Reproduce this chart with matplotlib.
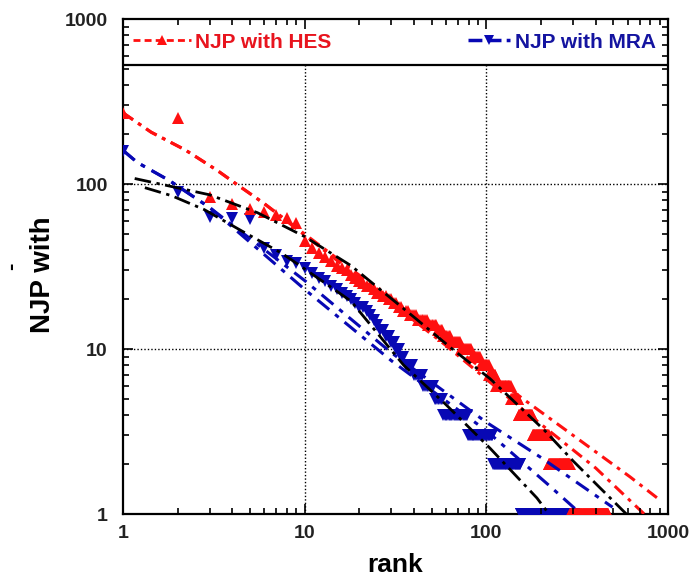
import numpy as np
import matplotlib.pyplot as plt
from matplotlib.lines import Line2D
from matplotlib.patches import Rectangle

plt.rcParams['font.family'] = ['Liberation Sans', 'DejaVu Sans']

# rank-size data
# HES: first ranks one by one, then (value, how many ranks share it)
hes_head = [270, 250, 83, 76, 71, 68, 65, 62, 58, 45, 41, 38, 36, 34, 32, 31, 30, 28, 27, 26]
hes_tail_values = [25, 24, 23, 22, 21, 20, 19, 18, 17, 16, 15, 14, 13, 12, 11, 10, 9, 8, 7, 6, 5, 4, 3, 2, 1]
hes_tail_counts = [1, 2, 1, 2, 2, 2, 2, 2, 3, 4, 6, 6, 4, 6, 9, 10, 10, 11, 9, 24, 14, 29, 41, 68, 179]

# MRA
mra_head = [158, 90, 63, 62, 61, 41, 37, 34, 33, 31, 29, 27, 26, 24, 23, 22, 21, 20, 19]
mra_tail_values = [18, 17, 16, 15, 14, 13, 12, 11, 10, 9, 8, 7, 6, 5, 4, 3, 2, 1]
mra_tail_counts = [2, 1, 1, 1, 1, 2, 2, 2, 2, 2, 4, 5, 7, 6, 21, 30, 46, 149]

# fitted curves (rank, value)
hes_fit1_rank = [1, 1.43, 2.2, 3.3, 4.1, 6, 20, 60, 167, 618, 890]
hes_fit1_val = [270, 206, 161, 121, 102, 76, 28, 11.1, 4.8, 1.68, 1.23]
hes_fit2_rank = [1, 1.43, 2.2, 3.3, 4.1, 6, 20, 60, 167, 400, 740]
hes_fit2_val = [270, 206, 161, 121, 102, 76, 27, 10.5, 4.1, 1.9, 1.0]

mra_fit1_rank = [1, 1.2, 1.8, 3, 10, 30, 100, 200, 495]
mra_fit1_val = [160, 135, 105, 72, 26, 9.5, 3.6, 2.2, 1.1]
mra_fit2_rank = [1, 1.2, 1.8, 3, 10, 30, 100, 220, 313]
mra_fit2_val = [160, 135, 105, 72, 23, 8.5, 3.2, 1.5, 1.06]

blk_fit1_rank = [1.16, 3, 5.5, 10, 18, 40, 65, 105, 210, 300, 420, 590]
blk_fit1_val = [108, 86, 67, 48, 32, 15.6, 10, 6.6, 3.2, 2.1, 1.45, 1.0]
blk_fit2_rank = [1.32, 1.85, 2.8, 4.5, 7.5, 10, 18, 35, 60, 105, 190, 214]
blk_fit2_val = [95, 85, 70, 52, 38, 30.6, 19.5, 8, 4.6, 2.5, 1.25, 1.05]

hes = np.array(hes_head + list(np.repeat(hes_tail_values, hes_tail_counts)))
mra = np.array(mra_head + list(np.repeat(mra_tail_values, mra_tail_counts)))
hes_rank = np.arange(1, len(hes) + 1)
mra_rank = np.arange(1, len(mra) + 1)

red = '#ff1010'
blue = '#0808b4'

fig = plt.figure(figsize=(6.92, 5.76), dpi=100)
ax = fig.add_axes([0.1777, 0.1076, 0.7876, 0.8594])

# data points
ax.plot(mra_rank, mra, linestyle='none', marker='v', ms=8.5, color=blue, mew=0, zorder=3)
ax.plot(hes_rank, hes, linestyle='none', marker='^', ms=8.5, color=red, mew=0, zorder=3)

# fit lines
dashdot = (0, (4, 2, 1.2, 2))
ax.plot(mra_fit1_rank, mra_fit1_val, color=blue, lw=2.2, linestyle=(0, (5, 2.5, 1.5, 2.5)), zorder=4)
ax.plot(mra_fit2_rank, mra_fit2_val, color=blue, lw=2.2, linestyle=(0, (5, 2.5, 1.5, 2.5)), zorder=4)
ax.plot(hes_fit1_rank, hes_fit1_val, color=red, lw=2.2, linestyle=dashdot, zorder=4)
ax.plot(hes_fit2_rank, hes_fit2_val, color=red, lw=2.2, linestyle=dashdot, zorder=4)
ax.plot(blk_fit1_rank, blk_fit1_val, color='black', lw=2.0, linestyle=(0, (6, 2, 1.2, 2)), zorder=4)
ax.plot(blk_fit2_rank, blk_fit2_val, color='black', lw=2.0, linestyle=(0, (6, 2, 1.2, 2)), zorder=4)

ax.set_xscale('log')
ax.set_yscale('log')
ax.set_xlim(1, 1000)
ax.set_ylim(1, 1000)

ticks = [1, 10, 100, 1000]
tick_labels = ['1', '10', '100', '1000']
ax.set_xticks(ticks)
ax.set_xticklabels(tick_labels)
ax.set_yticks(ticks)
ax.set_yticklabels(tick_labels)
ax.tick_params(which='both', direction='in', top=True, right=True, width=1.2, colors='black')
ax.tick_params(which='major', length=7)
ax.tick_params(which='minor', length=4.5)
ax.tick_params(axis='x', which='major', pad=8, labelsize=14, labelcolor='#222222')
ax.tick_params(axis='y', which='major', pad=11, labelsize=14, labelcolor='#222222')
for lab in ax.get_xticklabels() + ax.get_yticklabels():
    lab.set_fontweight('bold')
for s in ax.spines.values():
    s.set_linewidth(1.6)
# ticks stay visible over the legend strip
ax.xaxis.set_zorder(7)
ax.yaxis.set_zorder(7)

# legend strip across the top of the plot
box_h = 46 / 495

# dotted grid, stopping at the legend strip
grid_style = dict(color='black', linestyle=(0, (1, 1.5)), lw=1, zorder=1)
for g in [10, 100]:
    ax.axvline(g, ymax=1 - box_h, **grid_style)
    ax.axhline(g, **grid_style)

ax.add_patch(Rectangle((0, 1 - box_h), 1, box_h, transform=ax.transAxes,
                       facecolor='white', edgecolor='black', lw=1.6, zorder=5))
h_hes = Line2D([], [], color=red, lw=2, linestyle=(0, (2.5, 1.5)), marker='^', ms=7.5, mew=0)
h_mra = Line2D([], [], color=blue, lw=2.5, linestyle=(0, (4, 1.5)), marker='v', ms=7.5, mew=0)
leg1 = ax.legend([h_hes], ['NJP with HES'], loc='center left', bbox_to_anchor=(0.018, 1 - box_h / 2),
                 frameon=False, borderpad=0, borderaxespad=0, handlelength=2.8, handletextpad=0.2,
                 numpoints=1, prop={'weight': 'bold', 'size': 15}, labelcolor='#e8141e')
leg1.set_zorder(6)
ax.add_artist(leg1)
leg2 = ax.legend([h_mra], ['NJP with MRA'], loc='center right', bbox_to_anchor=(0.978, 1 - box_h / 2),
                 frameon=False, borderpad=0, borderaxespad=0, handlelength=2.0, handletextpad=0.25,
                 numpoints=1, prop={'weight': 'bold', 'size': 15}, labelcolor='#1414a0')
leg2.set_zorder(6)

# axis titles
fig.text(395 / 692, 1 - 572 / 576, 'rank', ha='center', va='baseline', fontsize=19, fontweight='bold')
fig.text(43 / 692, 1 - 275 / 576, 'NJP with', ha='center', va='center', rotation=90,
         fontsize=20, fontweight='bold')
fig.text(12 / 692, 1 - 266 / 576, '-', ha='center', va='center', rotation=90,
         fontsize=16, fontweight='bold')

fig.savefig('out.png', dpi=100)
